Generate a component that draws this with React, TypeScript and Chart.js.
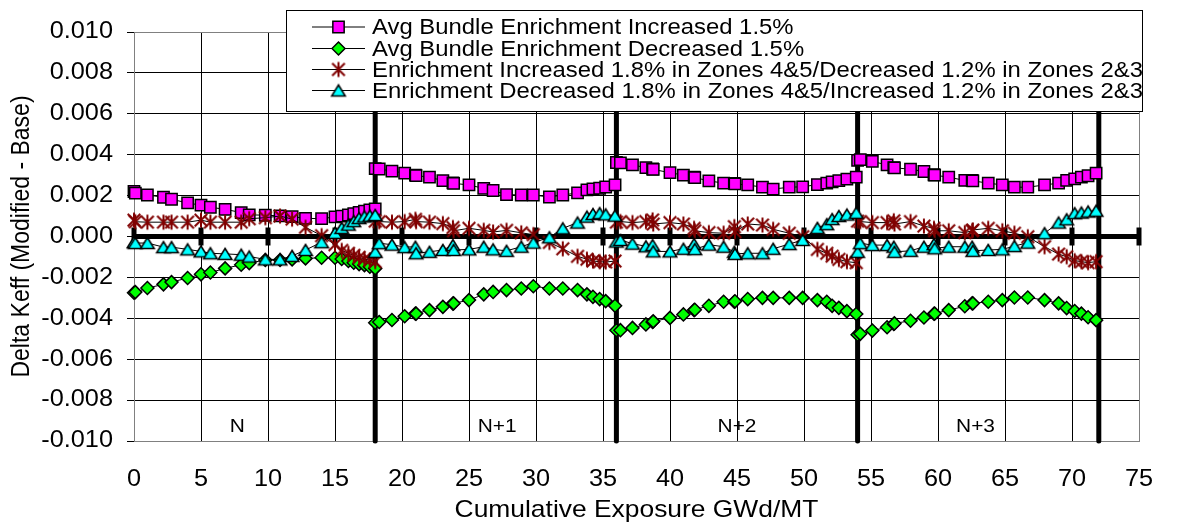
import React, { useEffect, useRef } from "react";
import { Chart, registerables } from "chart.js";

Chart.register(...registerables);

// Cumulative exposure (GWd/MT) at each depletion step, cycles N, N+1, N+2, N+3
const exposure = [
  0, 0.1, 1.0, 2.2, 2.8, 4.0, 5.0, 5.7, 6.8, 8.0, 8.6, 9.8, 10.9, 11.8, 12.8, 14.0, 15.0, 15.5, 16.0, 16.4, 16.8, 17.2, 17.6, 18.0,
  18.0, 18.3, 19.25, 20.2, 21.0, 21.05, 22.05, 23.05, 23.8, 23.85, 25.0, 26.1, 26.8, 27.8, 28.9, 29.8, 31.0, 32.0, 33.1, 33.8, 34.25, 34.75, 35.2, 35.9,
  36.0, 36.3, 37.2, 38.2, 38.7, 38.75, 40.0, 41.0, 41.8, 41.85, 42.9, 44.0, 44.8, 44.85, 45.8, 46.9, 47.7, 48.9, 49.9, 51.0, 51.7, 52.1, 52.6, 53.2, 53.9,
  54.0, 54.2, 55.1, 56.2, 56.7, 56.75, 57.95, 58.95, 59.7, 59.75, 60.8, 62.0, 62.55, 62.6, 63.75, 64.8, 65.7, 66.7, 67.95, 69.0, 69.6, 70.2, 70.7, 71.2, 71.8,
];

const avgIncreased = [
  0.00220, 0.00212, 0.00203, 0.00192, 0.00182, 0.00164, 0.00153, 0.00143, 0.00133, 0.00117, 0.00106, 0.00104, 0.00101, 0.00097, 0.00089, 0.00087, 0.00096, 0.00100, 0.00105, 0.00112, 0.00118, 0.00124, 0.00130, 0.00135,
  0.00332, 0.00330, 0.00320, 0.00310, 0.00300, 0.00298, 0.00290, 0.00273, 0.00262, 0.00260, 0.00252, 0.00235, 0.00225, 0.00205, 0.00203, 0.00203, 0.00193, 0.00203, 0.00213, 0.00228, 0.00233, 0.00236, 0.00242, 0.00252,
  0.00362, 0.00360, 0.00350, 0.00337, 0.00330, 0.00328, 0.00312, 0.00300, 0.00290, 0.00288, 0.00272, 0.00261, 0.00260, 0.00257, 0.00252, 0.00241, 0.00232, 0.00241, 0.00243, 0.00254, 0.00261, 0.00267, 0.00273, 0.00281, 0.00290,
  0.00372, 0.00376, 0.00367, 0.00350, 0.00337, 0.00336, 0.00329, 0.00318, 0.00302, 0.00300, 0.00290, 0.00274, 0.00274, 0.00272, 0.00261, 0.00252, 0.00241, 0.00241, 0.00252, 0.00261, 0.00274, 0.00282, 0.00290, 0.00297, 0.00310,
];

const avgDecreased = [
  -0.00275, -0.00272, -0.00252, -0.00234, -0.00223, -0.00203, -0.00185, -0.00176, -0.00156, -0.00138, -0.00130, -0.00115, -0.00115, -0.00112, -0.00107, -0.00104, -0.00104, -0.00110, -0.00120, -0.00128, -0.00135, -0.00140, -0.00148, -0.00156,
  -0.00422, -0.00418, -0.00408, -0.00390, -0.00377, -0.00377, -0.00360, -0.00344, -0.00328, -0.00327, -0.00311, -0.00283, -0.00271, -0.00262, -0.00254, -0.00243, -0.00254, -0.00254, -0.00262, -0.00283, -0.00295, -0.00306, -0.00316, -0.00339,
  -0.00458, -0.00458, -0.00447, -0.00430, -0.00418, -0.00415, -0.00398, -0.00381, -0.00360, -0.00358, -0.00339, -0.00319, -0.00319, -0.00317, -0.00306, -0.00300, -0.00300, -0.00300, -0.00300, -0.00311, -0.00319, -0.00339, -0.00349, -0.00365, -0.00379,
  -0.00480, -0.00476, -0.00460, -0.00444, -0.00428, -0.00425, -0.00412, -0.00396, -0.00378, -0.00377, -0.00360, -0.00341, -0.00327, -0.00327, -0.00319, -0.00311, -0.00298, -0.00298, -0.00311, -0.00327, -0.00350, -0.00364, -0.00377, -0.00395, -0.00409,
];

const outerUpInnerDown = [
  0.00080, 0.00072, 0.00070, 0.00070, 0.00070, 0.00070, 0.00080, 0.00070, 0.00070, 0.00070, 0.00087, 0.00092, 0.00100, 0.00085, 0.00045, 0.00004, -0.00040, -0.00068, -0.00082, -0.00092, -0.00102, -0.00110, -0.00116, -0.00123,
  0.00075, 0.00073, 0.00070, 0.00073, 0.00084, 0.00073, 0.00070, 0.00063, 0.00044, 0.00028, 0.00040, 0.00030, 0.00022, 0.00030, 0.00018, 0.00009, -0.00029, -0.00060, -0.00097, -0.00111, -0.00120, -0.00123, -0.00125, -0.00120,
  0.00070, 0.00073, 0.00068, 0.00073, 0.00081, 0.00061, 0.00068, 0.00061, 0.00040, 0.00028, 0.00019, 0.00016, 0.00048, 0.00024, 0.00061, 0.00056, 0.00035, 0.00016, -0.00001, -0.00063, -0.00082, -0.00096, -0.00112, -0.00123, -0.00128,
  0.00075, 0.00073, 0.00068, 0.00068, 0.00077, 0.00061, 0.00073, 0.00051, 0.00040, 0.00028, 0.00028, 0.00019, 0.00028, 0.00032, 0.00040, 0.00028, 0.00016, -0.00001, -0.00050, -0.00086, -0.00099, -0.00118, -0.00123, -0.00128, -0.00123,
];

const outerDownInnerUp = [
  -0.00028, -0.00032, -0.00032, -0.00052, -0.00052, -0.00063, -0.00073, -0.00082, -0.00085, -0.00089, -0.00098, -0.00112, -0.00112, -0.00095, -0.00066, -0.00028, 0.00018, 0.00042, 0.00058, 0.00075, 0.00090, 0.00098, 0.00102, 0.00105,
  -0.00075, -0.00033, -0.00040, -0.00052, -0.00050, -0.00082, -0.00075, -0.00066, -0.00042, -0.00066, -0.00063, -0.00050, -0.00063, -0.00070, -0.00050, -0.00030, -0.00004, 0.00040, 0.00068, 0.00097, 0.00110, 0.00114, 0.00108, 0.00102,
  -0.00025, -0.00017, -0.00035, -0.00048, -0.00042, -0.00073, -0.00073, -0.00060, -0.00037, -0.00062, -0.00040, -0.00050, -0.00075, -0.00085, -0.00082, -0.00082, -0.00060, -0.00037, -0.00017, 0.00042, 0.00060, 0.00085, 0.00100, 0.00107, 0.00116,
  -0.00075, -0.00033, -0.00042, -0.00042, -0.00050, -0.00075, -0.00070, -0.00050, -0.00037, -0.00058, -0.00050, -0.00050, -0.00050, -0.00070, -0.00066, -0.00063, -0.00047, -0.00030, 0.00016, 0.00068, 0.00084, 0.00114, 0.00117, 0.00122, 0.00126,
];

const seriesNames = [
  "Avg Bundle Enrichment Increased 1.5%",
  "Avg Bundle Enrichment Decreased 1.5%",
  "Enrichment Increased 1.8% in Zones 4&5/Decreased 1.2% in Zones 2&3",
  "Enrichment Decreased 1.8% in Zones 4&5/Increased 1.2% in Zones 2&3",
];

// End-of-cycle boundaries and the marked zero reference line
const cycleBoundaries = [18, 36, 54, 72];
const zeroLineMarks = [0, 5, 10, 15, 20, 25, 30, 35, 40, 45, 50, 55, 60, 65, 70, 75];
const cycleLabels = ["N", "N+1", "N+2", "N+3"];
const cycleLabelX = [7.7, 27.1, 45.0, 62.8];
const cycleLabelY = -0.0093;

const xTitle = "Cumulative Exposure GWd/MT";
const yTitle = "Delta Keff (Modified - Base)";

const FONT = '"Liberation Sans", Arial, Helvetica, sans-serif';
const STRETCH = 1.1;

// Asterisk marker (vertical stroke plus two corner-to-corner diagonals)
function makeStar(): HTMLCanvasElement {
  const c = document.createElement("canvas");
  c.width = 18;
  c.height = 18;
  const g = c.getContext("2d")!;
  g.strokeStyle = "#800000";
  g.lineWidth = 2;
  g.lineCap = "butt";
  const r = 7.5;
  const d = 6.3;
  g.beginPath();
  g.moveTo(9, 9 - r);
  g.lineTo(9, 9 + r);
  g.moveTo(9 - d, 9 - d);
  g.lineTo(9 + d, 9 + d);
  g.moveTo(9 + d, 9 - d);
  g.lineTo(9 - d, 9 + d);
  g.stroke();
  return c;
}

// Triangle marker centred on its bounding box
function makeTriangle(): HTMLCanvasElement {
  const c = document.createElement("canvas");
  c.width = 18;
  c.height = 16;
  const g = c.getContext("2d")!;
  g.beginPath();
  g.moveTo(9, 2.5);
  g.lineTo(15.8, 13.5);
  g.lineTo(2.2, 13.5);
  g.closePath();
  g.fillStyle = "#00FFFF";
  g.fill();
  g.strokeStyle = "#000";
  g.lineWidth = 1.5;
  g.lineJoin = "miter";
  g.stroke();
  return c;
}

function text(
  ctx: CanvasRenderingContext2D,
  s: string,
  x: number,
  y: number,
  size: number,
  align: CanvasTextAlign,
  baseline: CanvasTextBaseline,
  rotate = 0,
  stretch = STRETCH
) {
  ctx.save();
  ctx.translate(x, y);
  ctx.scale(stretch, 1);
  if (rotate) ctx.rotate(rotate);
  ctx.font = `${size}px ${FONT}`;
  ctx.fillStyle = "#000";
  ctx.textAlign = align;
  ctx.textBaseline = baseline;
  ctx.fillText(s, 0, 0);
  ctx.restore();
}

function drawMarker(
  ctx: CanvasRenderingContext2D,
  kind: number,
  x: number,
  y: number,
  star: HTMLCanvasElement,
  tri: HTMLCanvasElement
) {
  ctx.save();
  ctx.strokeStyle = "#000";
  ctx.lineWidth = 1.5;
  ctx.beginPath();
  if (kind === 0) {
    const s = 8 * Math.SQRT1_2;
    ctx.rect(x - s, y - s, 2 * s, 2 * s);
    ctx.fillStyle = "#FF00FF";
    ctx.fill();
    ctx.stroke();
  } else if (kind === 1) {
    const r = 6.5;
    ctx.moveTo(x - r, y);
    ctx.lineTo(x, y - r);
    ctx.lineTo(x + r, y);
    ctx.lineTo(x, y + r);
    ctx.closePath();
    ctx.fillStyle = "#00FF00";
    ctx.fill();
    ctx.stroke();
  } else if (kind === 2) {
    ctx.drawImage(star, x - star.width / 2, y - star.height / 2);
  } else {
    ctx.drawImage(tri, x - tri.width / 2, y - tri.height / 2);
  }
  ctx.restore();
}

export default function App() {
  const ref = useRef<HTMLCanvasElement | null>(null);

  useEffect(() => {
    document.body.style.margin = "0";
    const canvas = ref.current;
    if (!canvas) return;
    const star = makeStar();
    const tri = makeTriangle();
    const pts = (ys: number[]) => exposure.map((x, i) => ({ x, y: ys[i] }));

    const seriesStyle = (i: number, ys: number[]) => {
      const base: any = {
        label: seriesNames[i],
        data: pts(ys),
        showLine: true,
        borderColor: "#000",
        borderWidth: 1,
        pointBorderColor: "#000",
        pointBorderWidth: 1.5,
        pointHoverRadius: 0,
        order: 3 - i,
        clip: false,
      };
      if (i === 0) Object.assign(base, { pointStyle: "rect", pointRadius: 8, pointBackgroundColor: "#FF00FF" });
      if (i === 1) Object.assign(base, { pointStyle: "rectRot", pointRadius: 6.5, pointBackgroundColor: "#00FF00" });
      if (i === 2) Object.assign(base, { pointStyle: star, pointRadius: 7 });
      if (i === 3) Object.assign(base, { pointStyle: tri, pointRadius: 7 });
      return base;
    };

    const boundaryDatasets = cycleBoundaries.map((b) => ({
      label: "",
      data: [
        { x: b, y: -0.01 },
        { x: b, y: 0.01 },
      ],
      showLine: true,
      borderColor: "#000",
      borderWidth: 5,
      borderCapStyle: "round",
      pointRadius: 0,
      pointHoverRadius: 0,
      order: 10,
      clip: false,
    }));

    const zeroDataset = {
      label: "",
      data: zeroLineMarks.map((x) => ({ x, y: 0 })),
      showLine: true,
      borderColor: "#000",
      borderWidth: 5,
      pointStyle: "line",
      pointRotation: 90,
      pointRadius: 9,
      pointBorderWidth: 5,
      pointBorderColor: "#000",
      pointHoverRadius: 0,
      order: 9,
      clip: false,
    };

    const overlay = {
      id: "overlay",
      afterDraw(chart: any) {
        const ctx: CanvasRenderingContext2D = chart.ctx;
        const xs = chart.scales.x;
        const ys = chart.scales.y;

        // tick labels
        ys.ticks.forEach((t: any) => {
          const v = Math.abs(t.value) < 1e-9 ? 0 : t.value;
          text(ctx, v.toFixed(3), 113, ys.getPixelForValue(t.value), 23, "right", "middle");
        });
        xs.ticks.forEach((t: any) => {
          text(ctx, String(t.value), xs.getPixelForValue(t.value), 486, 23, "center", "alphabetic");
        });

        // axis titles
        text(ctx, xTitle, (xs.left + xs.right) / 2, 517, 24, "center", "alphabetic");
        text(ctx, yTitle, 22, (ys.top + ys.bottom) / 2, 23, "center", "middle", -Math.PI / 2);

        // cycle labels
        cycleLabels.forEach((s, i) => {
          text(ctx, s, xs.getPixelForValue(cycleLabelX[i]), ys.getPixelForValue(cycleLabelY), 19, "center", "middle");
        });

        // legend
        ctx.save();
        ctx.fillStyle = "#fff";
        ctx.strokeStyle = "#000";
        ctx.lineWidth = 1;
        ctx.fillRect(286.5, 10.5, 856, 101);
        ctx.strokeRect(286.5, 10.5, 856, 101);
        ctx.restore();
        const rowY = [27, 48.5, 69.5, 90.5];
        seriesNames.forEach((name, i) => {
          const y = rowY[i];
          ctx.save();
          ctx.strokeStyle = "#000";
          ctx.lineWidth = 1;
          ctx.beginPath();
          ctx.moveTo(312, y);
          ctx.lineTo(365, y);
          ctx.stroke();
          ctx.restore();
          drawMarker(ctx, i, 338.5, y, star, tri);
          text(ctx, name, 372, y + 1, 22, "left", "middle", 0, 1.085);
        });
      },
    };

    const edge = (v: number, lo: number, hi: number) => Math.abs(v - lo) < 1e-9 || Math.abs(v - hi) < 1e-9;

    const chart = new Chart(canvas, {
      type: "scatter",
      data: {
        datasets: [
          seriesStyle(0, avgIncreased),
          seriesStyle(1, avgDecreased),
          seriesStyle(2, outerUpInnerDown),
          seriesStyle(3, outerDownInnerUp),
          zeroDataset,
          ...boundaryDatasets,
        ] as any,
      },
      options: {
        animation: false,
        responsive: false,
        events: [],
        layout: { padding: { left: 0, right: 45, top: 32, bottom: 0 } },
        plugins: { legend: { display: false }, tooltip: { enabled: false } },
        elements: { line: { tension: 0 } },
        scales: {
          x: {
            type: "linear",
            min: 0,
            max: 75,
            ticks: { stepSize: 5, display: false },
            grid: {
              color: (c: any) => (edge(c.tick?.value, 0, 75) ? "#808080" : "#000"),
              lineWidth: 1,
              drawTicks: false,
            },
            border: { color: "#808080", width: 1 },
            afterFit: (s: any) => {
              s.height = 81;
            },
          },
          y: {
            type: "linear",
            min: -0.01,
            max: 0.01,
            ticks: { stepSize: 0.002, display: false },
            grid: {
              color: (c: any) => (edge(c.tick?.value, -0.01, 0.01) ? "#808080" : "#000"),
              lineWidth: 1,
              drawTicks: true,
              tickLength: 7,
              tickColor: "#000",
            },
            border: { color: "#808080", width: 1 },
            afterFit: (s: any) => {
              s.width = 134;
            },
          },
        },
      } as any,
      plugins: [overlay],
    });

    return () => chart.destroy();
  }, []);

  return <canvas ref={ref} width={1184} height={522} style={{ display: "block" }} />;
}
